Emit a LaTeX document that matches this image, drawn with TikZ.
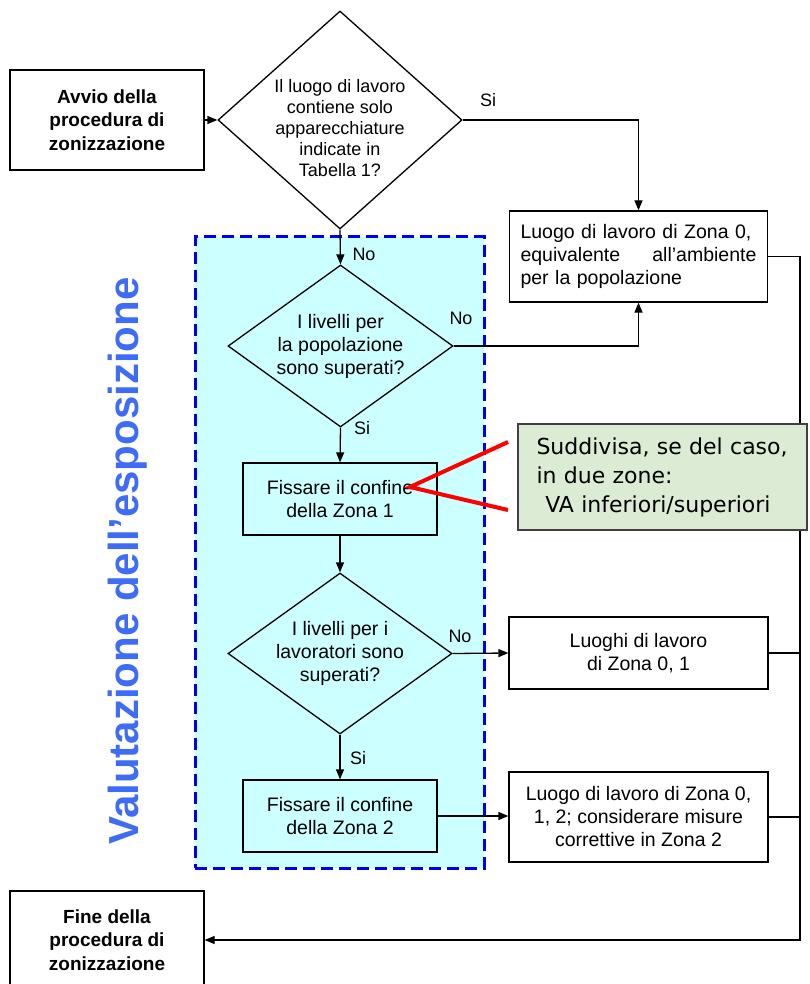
\documentclass[tikz,border=0pt]{standalone}
\usepackage{fontspec}
\setmainfont{Liberation Sans}
\newfontfamily\notefont{DejaVu Sans}
\usepackage{xcolor}
\usetikzlibrary{shapes.geometric}
\usetikzlibrary{arrows.meta}

\definecolor{zonefill}{HTML}{CCFFFF}
\definecolor{zoneblue}{HTML}{0000F0}
\definecolor{titleblue}{HTML}{3F6CF5}
\definecolor{notegreen}{HTML}{DCEBD4}
\definecolor{notegray}{HTML}{404040}

\begin{document}
\begin{tikzpicture}[x=1pt,y=-1pt,line width=1.3pt,>={Triangle[length=10pt,width=8pt]}]
\useasboundingbox (0,0) rectangle (809,984);

% zona di valutazione
\node[draw=zoneblue, fill=zonefill, line width=3pt, dash pattern=on 12pt off 6pt,
      minimum width=289pt, minimum height=631pt, inner sep=0pt] (zone) at (339.5,552.5) {};
\node[text=titleblue, font=\fontsize{42}{42}\selectfont\bfseries, rotate=90] (title) at (128,561) {Valutazione dell'esposizione};

\begin{scope}[every node/.style={draw,rectangle,line width=1.3pt,align=center,inner sep=0pt,
              font=\fontsize{19.5}{23}\selectfont}]
   \node[minimum width=194pt, minimum height=100pt, font=\fontsize{19}{23.5}\selectfont\bfseries] (start) at (107,120) {Avvio della\\procedura di\\zonizzazione};
   \node[minimum width=258pt, minimum height=91pt, text width=236pt, align=left] (z0) at (638.5,256.5) {Luogo di lavoro di Zona 0,\\equivalente\hfill all'ambiente\\per la popolazione};
   \node[minimum width=194pt, minimum height=72pt] (zona1) at (340,499) {Fissare il confine\\della Zona 1};
   \node[minimum width=259pt, minimum height=72pt] (z01) at (638.5,653) {Luoghi di lavoro\\di Zona 0, 1};
   \node[minimum width=194pt, minimum height=72pt] (zona2) at (340,816) {Fissare il confine\\della Zona 2};
   \node[minimum width=259pt, minimum height=90pt] (z012) at (638.5,817) {Luogo di lavoro di Zona 0,\\1, 2; considerare misure\\correttive in Zona 2};
   \node[minimum width=194pt, minimum height=98pt, font=\fontsize{19}{23.5}\selectfont\bfseries] (fine) at (107,940) {Fine della\\procedura di\\zonizzazione};
\end{scope}

\begin{scope}[every node/.style={draw,diamond,line width=1.3pt,align=center,inner sep=0pt,
              font=\fontsize{19.5}{23}\selectfont}]
   \node[minimum width=244pt, minimum height=218pt, shape aspect=1.12] (d1) at (340,120) {};
   \node[minimum width=225pt, minimum height=162pt, shape aspect=1.39] (d2) at (340.5,346) {I livelli per\\la popolazione\\sono superati?};
   \node[minimum width=224pt, minimum height=161pt, shape aspect=1.39] (d3) at (340,653.5) {I livelli per i\\lavoratori sono\\superati?};
\end{scope}

\begin{scope}[every node/.style={inner sep=0pt, font=\fontsize{18}{21}\selectfont}]
   \node[align=center] (d1text) at (340,128) {Il luogo di lavoro\\contiene solo\\apparecchiature\\indicate in\\Tabella 1?};
   \node (si1) at (488,100) {Si};
   \node (no1) at (364,254) {No};
   \node (no2) at (461,318) {No};
   \node (si2) at (362,428) {Si};
   \node (no3) at (460,636) {No};
   \node (si3) at (358,758) {Si};
\end{scope}

\coordinate (rail) at (800,940);

\draw [->] (start) -- (d1.west);
\draw [->] (d1.east) -| (z0.north);
\draw [->] (d1.south) -- (d2.north);
\draw [->] (d2.east) -| (z0.south);
\draw [->] (d2.south) -- (zona1.north);
\draw [->] (zona1.south) -- (d3.north);
\draw [->] (d3.east) -- (z01.west);
\draw [->] (d3.south) -- (zona2.north);
\draw [->] (zona2.east) -- (zona2.east -| z012.west);
\draw [->] (z0.east) -| (rail) -- (fine.east);
\draw (z01.east) -- (z01.east -| rail);
\draw (z012.east) -- (z012.east -| rail);

% nota
\node[draw=notegray, fill=notegreen, line width=1.5pt, minimum width=289pt, minimum height=106pt,
      text width=252pt, align=left, inner sep=0pt, font=\notefont\fontsize{22}{29}\selectfont] (note) at (662.5,477)
      {Suddivisa, se del caso,\\in due zone:\\\hspace*{0.4em}VA inferiori/superiori};
\coordinate (tip) at (410,487);
\coordinate (ptop) at (508,442);
\coordinate (pbot) at (508,510);
\draw [red, line width=4pt] (ptop) -- (tip) -- (pbot);
\end{tikzpicture}
\end{document}
